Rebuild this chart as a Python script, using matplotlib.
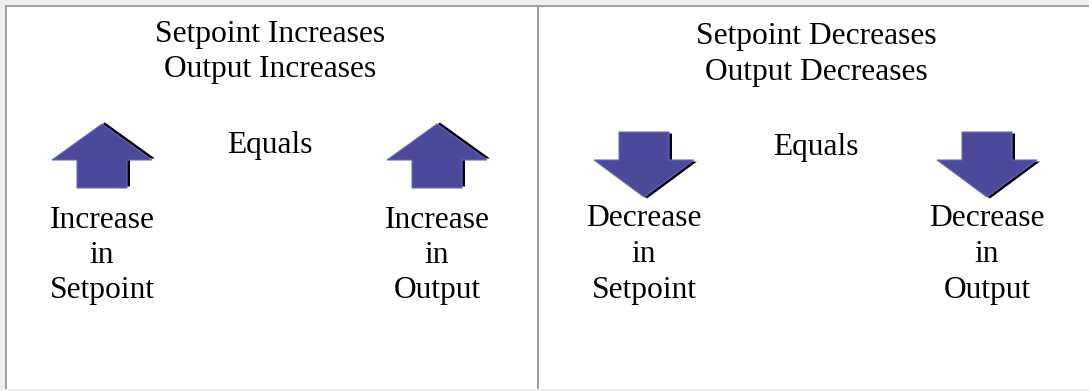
import matplotlib
matplotlib.use("Agg")
import matplotlib.pyplot as plt
from matplotlib.patches import Polygon, Rectangle

# canvas size in pixels
W, H = 1089, 391

# two table cells: header lines and the "Equals" word
cell_centers = [270, 816]
header_top = ["Setpoint Increases", "Setpoint Decreases"]
header_bottom = ["Output Increases", "Output Decreases"]
equals_text = ["Equals", "Equals"]

# four arrows with their captions
arrow_x = [102, 437, 644, 987]
arrow_dir = ["up", "up", "down", "down"]
caption_top = ["Increase", "Increase", "Decrease", "Decrease"]
caption_mid = ["in", "in", "in", "in"]
caption_bottom = ["Setpoint", "Output", "Setpoint", "Output"]

FILL = "#4b4999"
EDGE = "#6a68c0"
SHADOW = "#050510"
BORDER = "#a0a0a0"
OUTSIDE = "#eeeeee"
FONT = "Liberation Serif"
FS = 22.7


def arrow_points(cx, direction):
    if direction == "up":
        tip, shoulder, base = 124, 160, 188
    else:
        tip, shoulder, base = 197, 160, 132
    hw, sw = 50, 25
    return [(cx, tip), (cx + hw, shoulder), (cx + sw, shoulder), (cx + sw, base),
            (cx - sw, base), (cx - sw, shoulder), (cx - hw, shoulder)]


def draw_arrow(ax, cx, direction):
    pts = arrow_points(cx, direction)
    dy = -1.5 if direction == "up" else 1.5
    shadow = [(x + 3, y + dy) for x, y in pts]
    ax.add_patch(Polygon(shadow, closed=True, facecolor=SHADOW, edgecolor="none", zorder=2))
    ax.add_patch(Polygon(pts, closed=True, facecolor=FILL, edgecolor=EDGE, linewidth=0.8, zorder=3))


def main():
    fig = plt.figure(figsize=(W / 100, H / 100), dpi=100)
    ax = fig.add_axes([0, 0, 1, 1])
    ax.set_xlim(0, W)
    ax.set_ylim(H, 0)
    ax.axis("off")
    fig.patch.set_facecolor(OUTSIDE)

    # table body and borders
    ax.add_patch(Rectangle((5, 5), W - 5, 384, facecolor="white", edgecolor="none", zorder=0))
    ax.add_patch(Rectangle((5, 5), W - 5, 2, facecolor=BORDER, edgecolor="none", zorder=1))
    ax.add_patch(Rectangle((5, 5), 2, 384, facecolor=BORDER, edgecolor="none", zorder=1))
    ax.add_patch(Rectangle((537, 5), 2, 384, facecolor=BORDER, edgecolor="none", zorder=1))

    txt = dict(ha="center", va="baseline", fontsize=FS, family=FONT, color="black")

    header_y = [(42, 77), (44, 80)]
    equals_y = [153, 155]
    for i, cx in enumerate(cell_centers):
        ax.text(cx, header_y[i][0], header_top[i], **txt)
        ax.text(cx, header_y[i][1], header_bottom[i], **txt)
        ax.text(cx, equals_y[i], equals_text[i], **txt)

    for i, cx in enumerate(arrow_x):
        draw_arrow(ax, cx, arrow_dir[i])
        y0 = 228 if arrow_dir[i] == "up" else 226
        ax.text(cx, y0, caption_top[i], **txt)
        ax.text(cx, 263 if arrow_dir[i] == "up" else 262, caption_mid[i], **txt)
        ax.text(cx, 298, caption_bottom[i], **txt)

    fig.savefig("out.png", dpi=100, facecolor=OUTSIDE)


if __name__ == '__main__':
    main()
